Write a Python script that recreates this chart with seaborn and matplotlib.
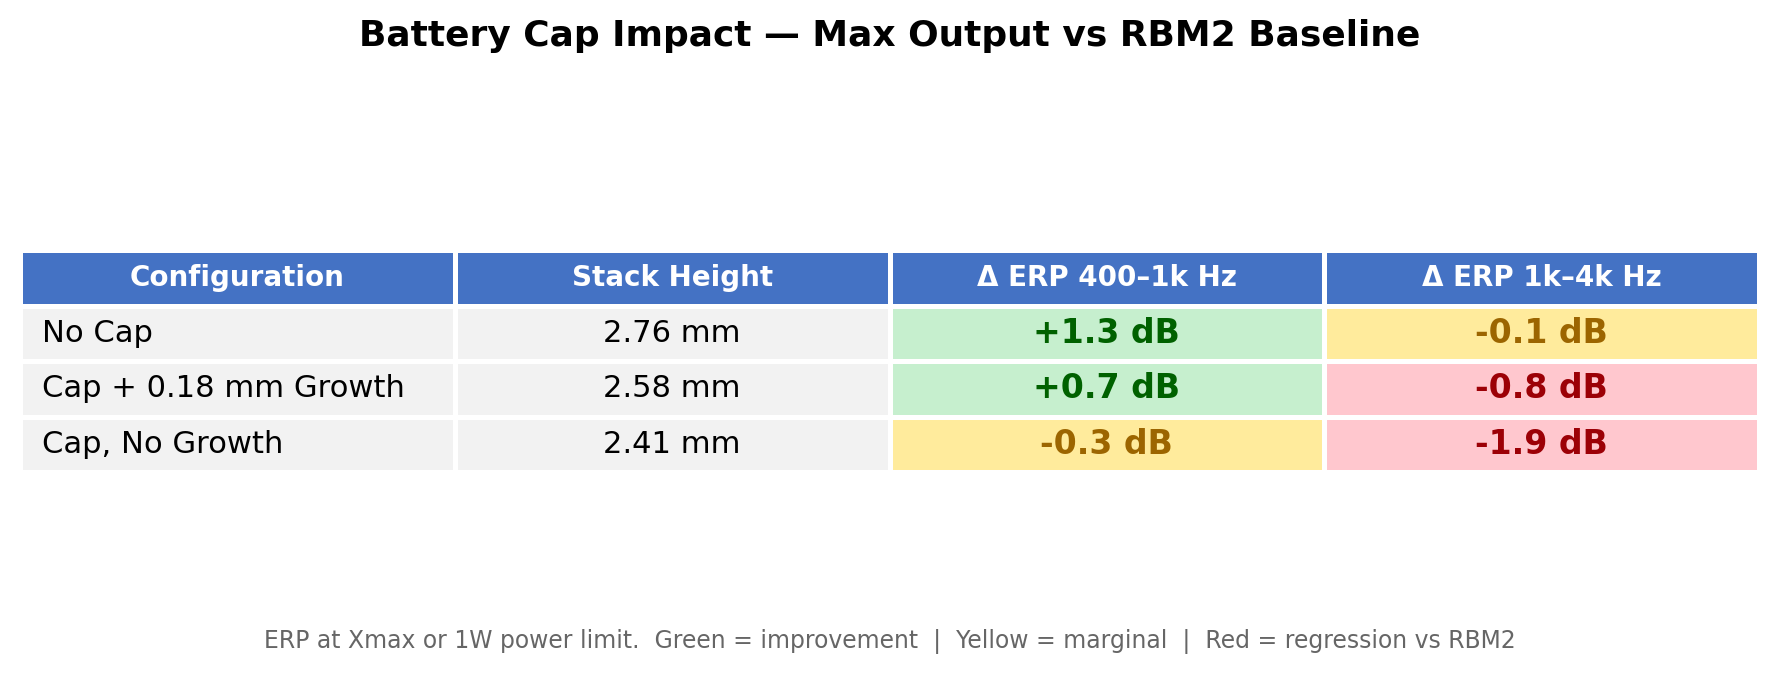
import numpy as np
import matplotlib
matplotlib.use("Agg")
import matplotlib.pyplot as plt
from matplotlib.colors import ListedColormap
import seaborn as sns

# Table data
columns = ['Configuration', 'Stack Height', 'Δ ERP 400–1k Hz', 'Δ ERP 1k–4k Hz']
configs = ['No Cap', 'Cap + 0.18 mm Growth', 'Cap, No Growth']
stack_height = [2.76, 2.58, 2.41]
erp_low = [1.3, 0.7, -0.3]
erp_high = [-0.1, -0.8, -1.9]

title = 'Battery Cap Impact — Max Output vs RBM2 Baseline'
footer = ('ERP at Xmax or 1W power limit.  Green = improvement  |  '
          'Yellow = marginal  |  Red = regression vs RBM2')

# colour codes: 0 header, 1 plain, 2 green, 3 yellow, 4 red
cell_colors = ['#4472C4', '#F2F2F2', '#C6EFCE', '#FFEB9C', '#FFC7CE']
text_colors = {2: '#006100', 3: '#9C6500', 4: '#9C0006'}


def status(v):
    if v > 0:
        return 2
    if v > -0.5:
        return 3
    return 4


codes = np.zeros((len(configs) + 1, len(columns)))
for i in range(len(configs)):
    codes[i + 1, 0] = 1
    codes[i + 1, 1] = 1
    codes[i + 1, 2] = status(erp_low[i])
    codes[i + 1, 3] = status(erp_high[i])

sns.set_theme(style="white")
plt.rcParams['font.family'] = ['DejaVu Sans']

W, H = 1779, 676
fig = plt.figure(figsize=(W / 150, H / 150), dpi=150)
ax = fig.add_axes([20 / W, 1 - 472 / H, 1739 / W, 222 / H])
sns.heatmap(codes, ax=ax, cmap=ListedColormap(cell_colors), vmin=-0.5, vmax=4.5,
            cbar=False, linewidths=1.6, linecolor='white')
ax.set_xticks([])
ax.set_yticks([])

# header
for j, name in enumerate(columns):
    ax.text(j + 0.5, 0.5, name, ha='center', va='center', color='white',
            fontsize=13.3, fontweight='bold')

# body
for i in range(len(configs)):
    r = i + 1.5
    ax.text(0.05, r, configs[i], ha='left', va='center', fontsize=14.7, color='black')
    ax.text(1.5, r, f'{stack_height[i]:.2f} mm', ha='center', va='center',
            fontsize=14.7, color='black')
    for j, v in ((2, erp_low[i]), (3, erp_high[i])):
        ax.text(j + 0.5, r, f'{v:+.1f} dB', ha='center', va='center', fontsize=15.9,
                fontweight='bold', color=text_colors[int(codes[i + 1, j])])

fig.text(0.5, 1 - 36 / H, title, ha='center', va='center',
         fontsize=17.3, fontweight='bold', color='black')
fig.text(0.5, 1 - 642 / H, footer, ha='center', va='center',
         fontsize=11.3, color='#666666')

fig.savefig('out.png', dpi=150, facecolor='white')
